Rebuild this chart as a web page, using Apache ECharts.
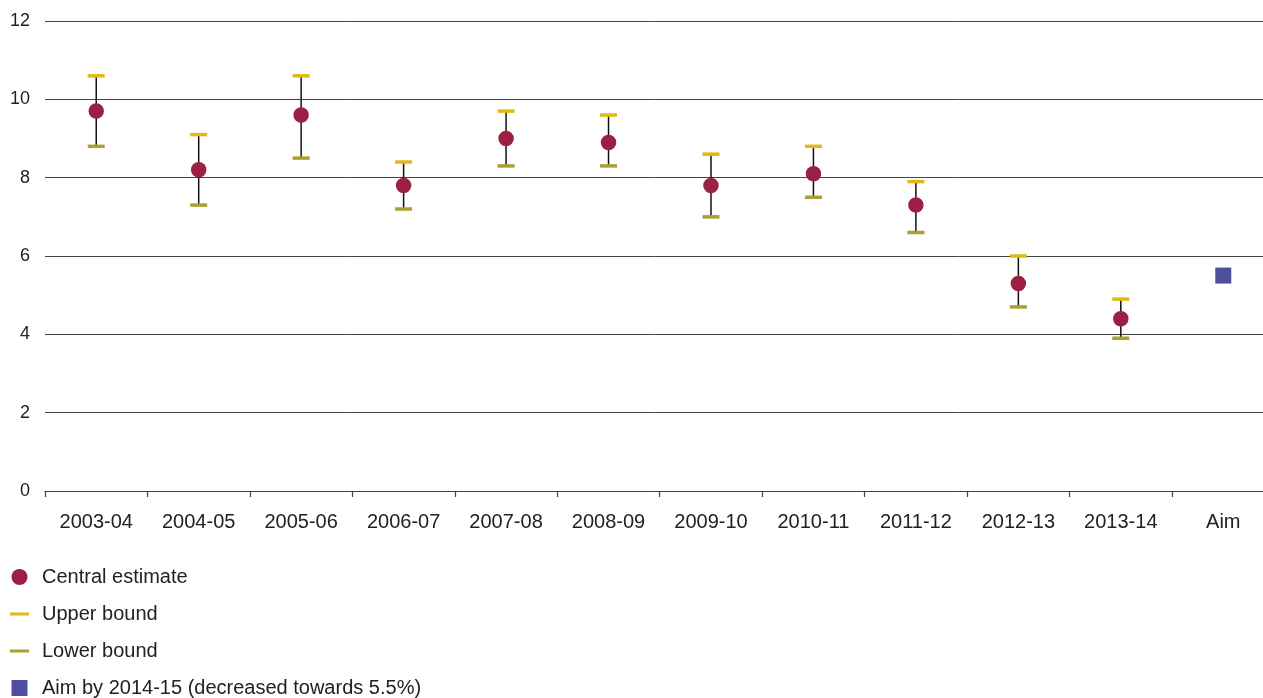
<!DOCTYPE html>
<html>
<head>
<meta charset="utf-8">
<title>Central estimate with upper and lower bounds</title>
<script src="https://cdn.jsdelivr.net/npm/echarts@6/dist/echarts.min.js"></script>
<style>
  html, body { margin: 0; padding: 0; background: #fff; }
  #chart { width: 1263px; height: 698px; }
</style>
</head>
<body>
<div id="chart"></div>
<script>
// Years plus the final aim column
const categories = ['2003-04', '2004-05', '2005-06', '2006-07', '2007-08', '2008-09',
                    '2009-10', '2010-11', '2011-12', '2012-13', '2013-14', 'Aim'];
const central = [9.7, 8.2, 9.6, 7.8, 9.0, 8.9, 7.8, 8.1, 7.3, 5.3, 4.4, null];
const upper   = [10.6, 9.1, 10.6, 8.4, 9.7, 9.6, 8.6, 8.8, 7.9, 6.0, 4.9, null];
const lower   = [8.8, 7.3, 8.5, 7.2, 8.3, 8.3, 7.0, 7.5, 6.6, 4.7, 3.9, null];
const aim     = [null, null, null, null, null, null, null, null, null, null, null, 5.5];
const yTicks  = [0, 2, 4, 6, 8, 10, 12];

const FONT = '"Liberation Sans", Arial, Helvetica, sans-serif';
const TEXT = '#222';

// whisker segments: [category index, lower, upper]
const whiskers = categories.map((c, i) => [i, lower[i], upper[i]])
                           .filter(d => d[1] != null && d[2] != null);

const chart = echarts.init(document.getElementById('chart'), null, { renderer: 'canvas' });

chart.setOption({
  animation: false,
  backgroundColor: '#fff',
  textStyle: { fontFamily: FONT, color: TEXT },
  // plot runs past the right edge of the canvas
  grid: { left: 45, top: 21, width: 1229.5, bottom: 207, containLabel: false, outerBoundsMode: 'none' },
  legend: {
    orient: 'vertical',
    left: 5,
    top: 562,
    height: 140,
    itemWidth: 19,
    itemHeight: 16,
    itemGap: 17,
    symbolKeepAspect: true,
    selectedMode: false,
    textStyle: { fontFamily: FONT, fontSize: 20, color: TEXT, padding: [0, 0, 0, 8] },
    data: [
      { name: 'Central estimate', icon: 'circle' },
      { name: 'Upper bound', icon: 'path://M0,0H19V3H0Z' },
      { name: 'Lower bound', icon: 'path://M0,0H19V3H0Z' },
      { name: 'Aim by 2014-15 (decreased towards 5.5%)', icon: 'path://M0,0H16V16H0Z' }
    ]
  },
  xAxis: {
    type: 'category',
    data: categories,
    boundaryGap: true,
    axisLine: { show: true, lineStyle: { color: '#444', width: 1 } },
    axisTick: { show: true, length: 6, lineStyle: { color: '#444', width: 1.2 } },
    axisLabel: { fontFamily: FONT, fontSize: 20, color: TEXT, margin: 21 },
    splitLine: { show: false }
  },
  yAxis: {
    type: 'value',
    min: yTicks[0],
    max: yTicks[yTicks.length - 1],
    interval: 2,
    axisLine: { show: false },
    axisTick: { show: false },
    axisLabel: { fontFamily: FONT, fontSize: 18, color: TEXT, margin: 15 },
    splitLine: { show: true, lineStyle: { color: '#444', width: 1 } }
  },
  series: [
    {
      name: 'range',
      type: 'custom',
      data: whiskers,
      z: 1,
      silent: true,
      renderItem: function (params, api) {
        const lo = api.coord([api.value(0), api.value(1)]);
        const hi = api.coord([api.value(0), api.value(2)]);
        return {
          type: 'line',
          shape: { x1: lo[0], y1: lo[1], x2: hi[0], y2: hi[1] },
          style: { stroke: '#111', lineWidth: 1.5 }
        };
      }
    },
    {
      name: 'Upper bound',
      type: 'scatter',
      data: upper,
      symbol: 'rect',
      symbolSize: [17, 3.5],
      itemStyle: { color: '#e2b716', opacity: 1 },
      z: 2
    },
    {
      name: 'Lower bound',
      type: 'scatter',
      data: lower,
      symbol: 'rect',
      symbolSize: [17, 3.5],
      itemStyle: { color: '#aa9f30', opacity: 1 },
      z: 2
    },
    {
      name: 'Central estimate',
      type: 'scatter',
      data: central,
      symbol: 'circle',
      symbolSize: 15.5,
      itemStyle: { color: '#9c2044', opacity: 1 },
      z: 3
    },
    {
      name: 'Aim by 2014-15 (decreased towards 5.5%)',
      type: 'scatter',
      data: aim,
      symbol: 'rect',
      symbolSize: 16,
      itemStyle: { color: '#4f4f9f', opacity: 1 },
      z: 3
    }
  ]
});
</script>
</body>
</html>
